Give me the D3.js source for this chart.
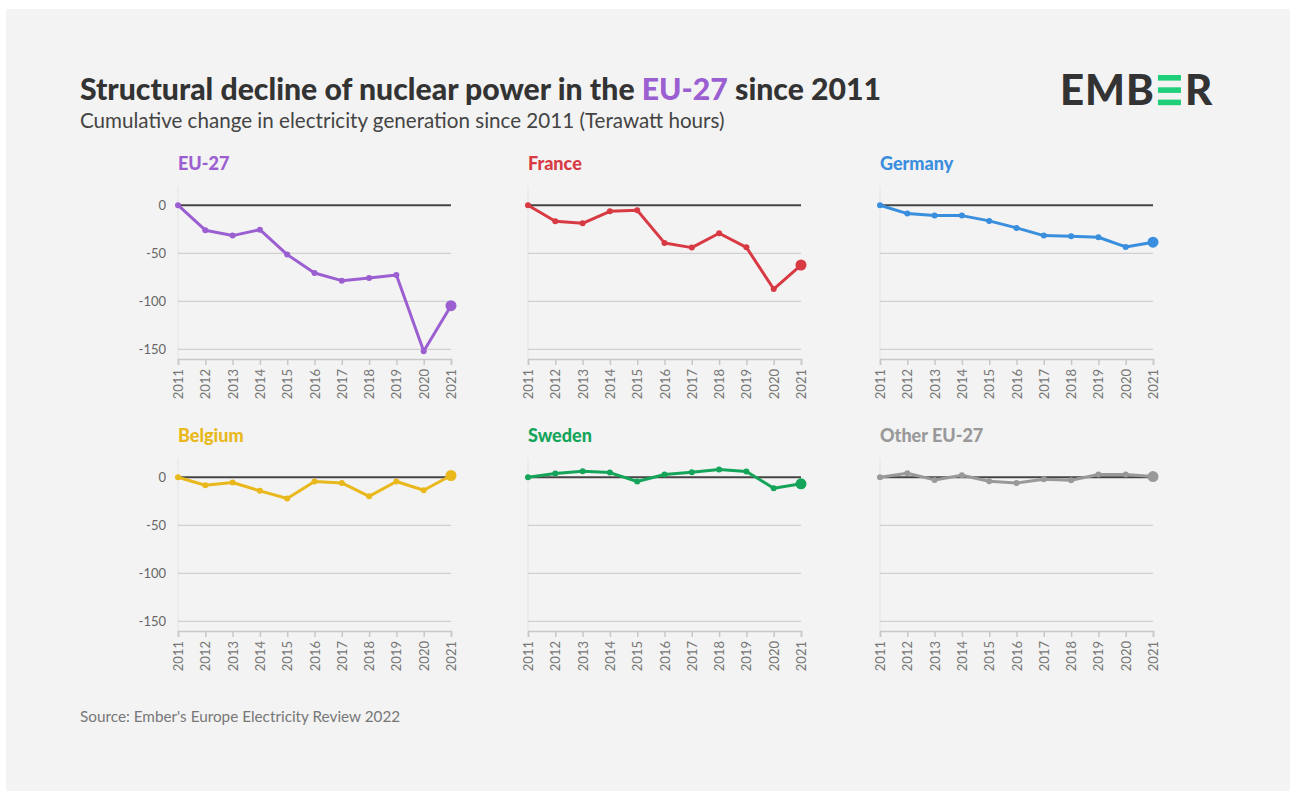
<!DOCTYPE html>
<html>
<head>
<meta charset="utf-8">
<script src="https://cdn.jsdelivr.net/npm/d3@7"></script>
<style>
  html, body { margin: 0; padding: 0; background: #ffffff; }
  svg { display: block; }
  text { font-family: Lato, "Noto Sans", sans-serif; }
</style>
</head>
<body>
<svg id="chart" width="1290" height="791"></svg>
<script>
// Cumulative change in nuclear generation vs 2011 (TWh)
const years = [2011, 2012, 2013, 2014, 2015, 2016, 2017, 2018, 2019, 2020, 2021];
const regions = ["EU-27", "France", "Germany", "Belgium", "Sweden", "Other EU-27"];
const regionColors = ["#9b5fd1", "#d83a44", "#3a8ede", "#e8b81c", "#14a55a", "#999999"];
const eu27    = [0, -26, -31.6, -25.4, -51.4, -70.5, -78.5, -75.7, -72.6, -152, -104.5];
const france  = [0, -16.7, -18.8, -6.3, -5.2, -39.2, -44.1, -29.2, -43.8, -87.2, -62.2];
const germany = [0, -8.7, -10.8, -10.8, -16.3, -23.6, -31.6, -32.3, -33.3, -43.4, -38.5];
const belgium = [0, -8.3, -5.5, -14.2, -22.2, -4.5, -5.9, -19.9, -4.5, -13.5, 1.8];
const sweden  = [0, 3.8, 6.2, 4.8, -4.5, 2.8, 5.2, 8.0, 5.9, -11.4, -6.9];
const other   = [0, 4.2, -2.8, 2.1, -4.1, -5.9, -2.1, -3.1, 2.8, 2.8, 0.7];
const seriesValues = [eu27, france, germany, belgium, sweden, other];
const yTicks = [0, -50, -100, -150];

const svg = d3.select("#chart");

// card background
svg.append("rect").attr("x", 6).attr("y", 9).attr("width", 1284).attr("height", 782).attr("fill", "#f3f3f3");

// heading
const title = svg.append("text").attr("x", 80).attr("y", 100)
  .attr("font-size", 30.2).attr("font-weight", 900).attr("fill", "#333");
title.append("tspan").text("Structural decline of nuclear power in the ");
title.append("tspan").attr("fill", regionColors[0]).text("EU-27");
title.append("tspan").text(" since 2011");

svg.append("text").attr("x", 80).attr("y", 128)
  .attr("font-size", 20.6).attr("fill", "#444")
  .text("Cumulative change in electricity generation since 2011 (Terawatt hours)");

// logo: "EMB", three green bars, "R"
const logo = svg.append("g").attr("transform", "translate(1060,105)");
const emb = logo.append("text").attr("x", 0).attr("y", 0).attr("font-size", 42).attr("font-weight", 900)
  .attr("fill", "#333").attr("letter-spacing", 1).text("EMB");
const embW = emb.node().getComputedTextLength();
const barX = embW + 3;
[0, 1, 2].forEach(i => {
  logo.append("rect").attr("x", barX).attr("y", -30 + i * 12.3).attr("width", 23).attr("height", 5.6).attr("fill", "#1fcf7a");
});
logo.append("text").attr("x", barX + 27).attr("y", 0).attr("font-size", 42).attr("font-weight", 900)
  .attr("fill", "#333").text("R");

// source
svg.append("text").attr("x", 80).attr("y", 722)
  .attr("font-size", 15.3).attr("fill", "#777")
  .text("Source: Ember's Europe Electricity Review 2022");

// small multiples
const colX = [178, 528, 880];
const rowBase = [359, 631];
const plotW = 273, plotH = 173;

regions.forEach((name, i) => {
  const col = i % 3, row = Math.floor(i / 3);
  const x0 = colX[col], yb = rowBase[row];
  const g = svg.append("g").attr("transform", `translate(${x0},${yb - plotH})`);
  const x = d3.scalePoint().domain(years).range([0, plotW]);
  const y = d3.scaleLinear().domain([-160, 20]).range([plotH, 0]);
  const color = regionColors[i];

  // panel title
  g.append("text").attr("x", 0).attr("y", -16).attr("font-size", 18).attr("font-weight", 900)
    .attr("fill", color).text(name);

  // left faint rule
  g.append("line").attr("x1", 0).attr("x2", 0).attr("y1", 0).attr("y2", plotH)
    .attr("stroke", "#e4e4e4").attr("stroke-width", 1);

  // gridlines
  g.selectAll("line.grid").data(yTicks.filter(t => t !== 0)).join("line")
    .attr("class", "grid")
    .attr("x1", 0).attr("x2", plotW)
    .attr("y1", d => y(d)).attr("y2", d => y(d))
    .attr("stroke", "#d0d0d0").attr("stroke-width", 1.2);

  // y labels on first column
  if (col === 0) {
    g.selectAll("text.ylab").data(yTicks).join("text")
      .attr("class", "ylab")
      .attr("x", -12).attr("y", d => y(d)).attr("dy", "0.35em")
      .attr("text-anchor", "end").attr("font-size", 13).attr("fill", "#666")
      .text(d => d);
  }

  // x axis
  const xAxis = g.append("g").attr("transform", `translate(0,${plotH})`)
    .call(d3.axisBottom(x).tickSize(6).tickPadding(8));
  xAxis.select(".domain").attr("stroke", "#c8c8c8").attr("stroke-width", 1.5);
  xAxis.selectAll(".tick line").attr("stroke", "#c8c8c8").attr("stroke-width", 1.5);
  xAxis.selectAll(".tick text")
    .attr("font-family", "Lato, 'Noto Sans', sans-serif")
    .attr("font-size", 13).attr("fill", "#777")
    .attr("transform", "rotate(-90)")
    .attr("text-anchor", "end")
    .attr("x", -10).attr("y", 0).attr("dy", "0.35em");

  // zero line
  g.append("line").attr("x1", 0).attr("x2", plotW).attr("y1", y(0)).attr("y2", y(0))
    .attr("stroke", "#444").attr("stroke-width", 2);

  const vals = seriesValues[i];
  const pts = years.map((yr, k) => ({ yr, v: vals[k] }));

  g.append("path").datum(pts)
    .attr("fill", "none").attr("stroke", color).attr("stroke-width", 3)
    .attr("stroke-linejoin", "round")
    .attr("d", d3.line().x(d => x(d.yr)).y(d => y(d.v)));

  g.selectAll("circle").data(pts).join("circle")
    .attr("cx", d => x(d.yr)).attr("cy", d => y(d.v))
    .attr("r", (d, k) => k === pts.length - 1 ? 5.5 : 3)
    .attr("fill", color);
});
</script>
</body>
</html>
